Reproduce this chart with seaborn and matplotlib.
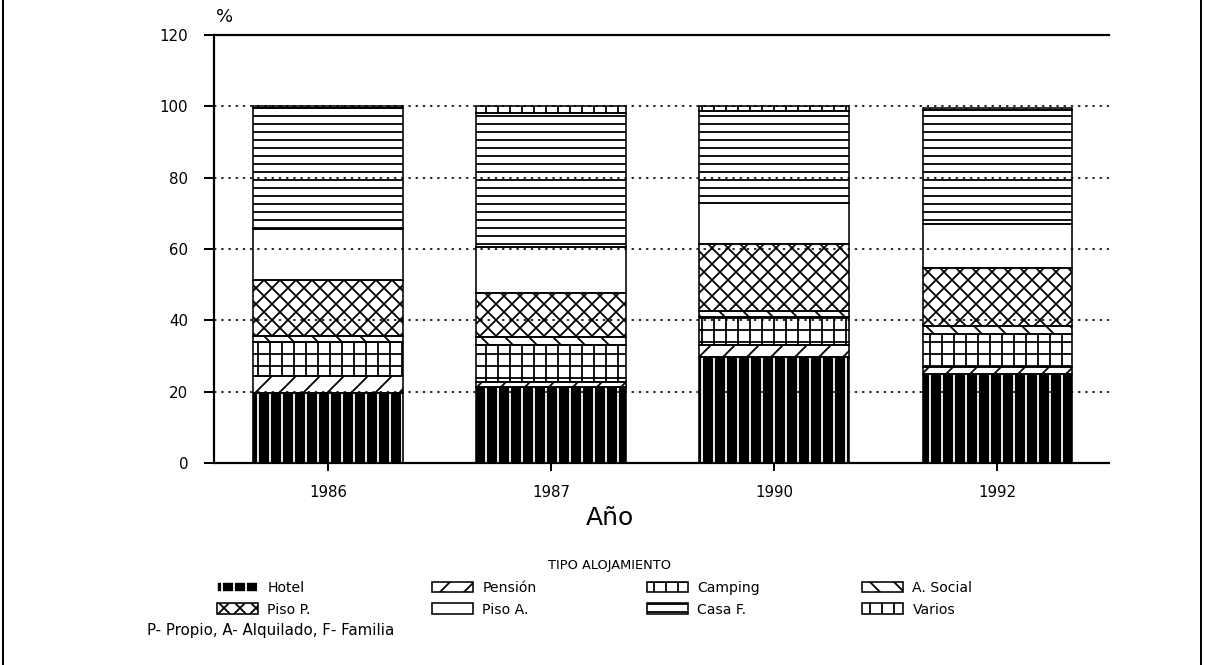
import matplotlib
matplotlib.use('Agg')
import matplotlib.pyplot as plt
import matplotlib.patches as mpatches
from matplotlib.lines import Line2D
import numpy as np
import seaborn as sns

# Data (% of each accommodation type per year)
years = ['1986', '1987', '1990', '1992']
tipos = ['Hotel', 'Pensión', 'Camping', 'A. Social', 'Piso P.', 'Piso A.', 'Casa F.', 'Varios']
hotel = [19.5, 21.3, 29.7, 25.0]
pension = [4.8, 1.4, 3.3, 1.9]
camping = [9.5, 10.3, 7.9, 9.3]
a_social = [1.7, 2.3, 1.8, 2.3]
piso_p = [15.9, 12.5, 18.7, 16.1]
piso_a = [14.2, 12.9, 11.6, 12.5]
casa_f = [33.8, 37.4, 25.6, 31.8]
varios = [0.6, 1.9, 1.4, 0.5]
series = [hotel, pension, camping, a_social, piso_p, piso_a, casa_f, varios]

# fill and hatch per type
styles = {
    'Hotel': dict(facecolor='black', edgecolor='white', hatch='||'),
    'Pensión': dict(facecolor='white', edgecolor='black', hatch='//'),
    'Camping': dict(facecolor='white', edgecolor='black', hatch='++'),
    'A. Social': dict(facecolor='white', edgecolor='black', hatch='\\\\'),
    'Piso P.': dict(facecolor='white', edgecolor='black', hatch='xxx'),
    'Piso A.': dict(facecolor='white', edgecolor='black', hatch=''),
    'Casa F.': dict(facecolor='white', edgecolor='black', hatch='---'),
    'Varios': dict(facecolor='white', edgecolor='black', hatch='||'),
}

sns.set_style('white')
plt.rcParams['font.family'] = ['DejaVu Sans']
plt.rcParams['hatch.linewidth'] = 0.9
for k in ['text.color', 'axes.labelcolor', 'xtick.color', 'ytick.color']:
    plt.rcParams[k] = 'black'

DPI = 144
fig = plt.figure(figsize=(1205 / DPI, 665 / DPI), dpi=DPI)
ax = fig.add_axes([214 / 1205, 1 - 463 / 665, (1109 - 214) / 1205, (463 - 35) / 665])

bar_w = 0.67
bottom = np.zeros(len(years))
for name, vals in zip(tipos, series):
    st = styles[name]
    sns.barplot(x=years, y=vals, bottom=bottom, width=bar_w, ax=ax,
                color=st['facecolor'], edgecolor=st['edgecolor'],
                hatch=st['hatch'], linewidth=0, saturation=1, zorder=2)
    # black outline of the segment
    sns.barplot(x=years, y=vals, bottom=bottom, width=bar_w, ax=ax, color='black',
                fill=False, edgecolor='black', linewidth=0.8, saturation=1, zorder=3)
    bottom = bottom + np.array(vals)

ax.set_xlim(-0.51, 3.50)
ax.set_ylim(0, 120)
ax.set_yticks(range(0, 121, 20))
ax.set_xlabel('')
ax.set_ylabel('')

# dotted gridlines drawn over the bars
for v in range(20, 101, 20):
    ax.axhline(v, color='black', linewidth=0.8, linestyle=(0, (1.5, 3)), zorder=4)

for side in ['left', 'bottom', 'top']:
    ax.spines[side].set_visible(True)
    ax.spines[side].set_color('black')
    ax.spines[side].set_linewidth(1.1)
ax.spines['right'].set_visible(False)
ax.tick_params(axis='y', direction='out', length=5, width=1, pad=8, labelsize=7.5, left=True)
ax.tick_params(axis='x', direction='out', length=4, width=1, pad=7, labelsize=7.5, bottom=True)

fig.text(225 / 1205, 1 - 17 / 665, '%', fontsize=9, ha='center', va='center')
fig.text(610 / 1205, 1 - 518 / 665, 'Año', fontsize=12.5, ha='center', va='center')
fig.text(610 / 1205, 1 - 565 / 665, 'TIPO ALOJAMIENTO', fontsize=6.5, ha='center', va='center')
fig.text(147 / 1205, 1 - 630 / 665, 'P- Propio, A- Alquilado, F- Familia', fontsize=7.5,
         ha='left', va='center')

# legend: 4 columns of 2 entries
col_x = [217, 432, 647, 862]
for c in range(4):
    names = [tipos[c], tipos[c + 4]]
    handles = []
    for n in names:
        st = styles[n]
        handles.append(mpatches.Patch(facecolor=st['facecolor'], edgecolor=st['edgecolor'],
                                      hatch=st['hatch'], linewidth=0.8))
    fig.legend(handles, names, loc='upper left', bbox_to_anchor=(col_x[c] / 1205, 1 - 581 / 665),
               frameon=False, fontsize=7, handlelength=2.9, handleheight=0.8,
               handletextpad=0.7, labelspacing=0.55, borderpad=0, borderaxespad=0)

# page border lines
fig.add_artist(Line2D([3 / 1205, 3 / 1205], [0, 1], color='black', linewidth=1))
fig.add_artist(Line2D([1201 / 1205, 1201 / 1205], [0, 1], color='black', linewidth=1))

fig.savefig('out.png', dpi=DPI)
